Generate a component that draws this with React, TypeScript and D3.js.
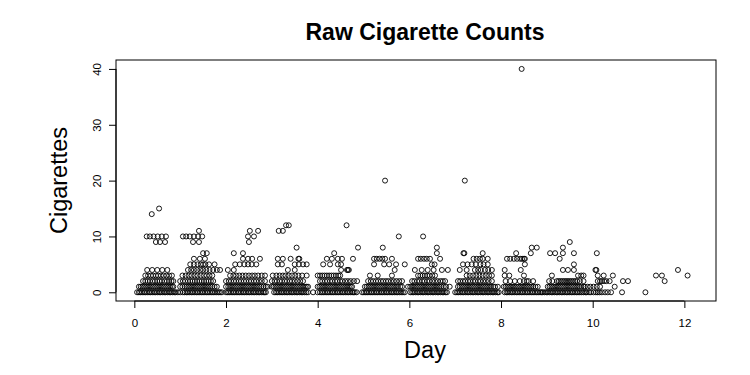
import React, { useRef, useEffect } from 'react';
import * as d3 from 'd3';

// Day values of the observations, one list per cigarette count
const zeroDays = [
  0.06, 0.1, 0.13, 0.17, 0.21, 0.24, 0.28, 0.32, 0.35, 0.39, 0.43, 0.46, 0.5, 0.54, 0.57, 0.61, 0.65, 0.68, 0.72, 0.76, 0.79, 0.83, 0.87, 0.9, 0.95,
  1.0, 1.06,
  1.1, 1.14, 1.17, 1.21, 1.25, 1.28, 1.32, 1.36, 1.39, 1.43, 1.47, 1.5, 1.54, 1.58, 1.61, 1.65, 1.69, 1.72, 1.76, 1.8, 1.84, 1.87, 1.91,
  2.0, 2.04, 2.07, 2.11, 2.15, 2.18, 2.22, 2.26, 2.29, 2.33, 2.37, 2.4, 2.44, 2.48, 2.51, 2.55, 2.59, 2.62, 2.66, 2.7, 2.73, 2.77, 2.81, 2.84, 2.87,
  3.05, 3.09, 3.12, 3.16, 3.2, 3.23, 3.27, 3.31, 3.34, 3.38, 3.42, 3.45, 3.49, 3.53, 3.56, 3.6, 3.64, 3.67, 3.71, 3.75, 3.79, 3.9, 4.0,
  4.05, 4.09, 4.12, 4.16, 4.2, 4.23, 4.27, 4.31, 4.34, 4.38, 4.42, 4.45, 4.49, 4.53, 4.56, 4.6, 4.64, 4.67, 4.71, 4.75, 4.78, 4.81, 4.85, 4.97,
  5.01, 5.05, 5.08, 5.12, 5.16, 5.19, 5.23, 5.27, 5.3, 5.34, 5.38, 5.41, 5.45, 5.49, 5.52, 5.56, 5.6, 5.63, 5.67, 5.71, 5.74, 5.78, 5.82, 5.86, 5.9,
  6.02, 6.06, 6.09, 6.13, 6.17, 6.2, 6.24, 6.28, 6.31, 6.35, 6.39, 6.42, 6.46, 6.5, 6.53, 6.57, 6.61, 6.64, 6.68, 6.72, 6.75, 6.79, 6.82,
  7.0, 7.04, 7.07, 7.11, 7.15, 7.18, 7.22, 7.26, 7.29, 7.33, 7.37, 7.4, 7.44, 7.48, 7.51, 7.55, 7.59, 7.62, 7.66, 7.7, 7.73, 7.77, 7.81, 7.84, 7.88, 7.92, 7.95,
  8.08, 8.12, 8.15, 8.19, 8.23, 8.26, 8.3, 8.34, 8.37, 8.41, 8.45, 8.48, 8.52, 8.56, 8.59, 8.63, 8.67, 8.7, 8.74, 8.78, 8.81, 8.85, 8.88, 8.91,
  8.95, 8.99, 9.02, 9.06, 9.1, 9.13, 9.17, 9.21, 9.24, 9.28, 9.32, 9.35, 9.39, 9.43, 9.46, 9.5, 9.54, 9.57, 9.61, 9.65, 9.68, 9.72, 9.76, 9.8, 9.84, 9.87,
  9.92, 9.96, 10.02, 10.07, 10.11, 10.15, 10.2, 10.27, 10.33, 10.4, 10.64, 11.15,
];

const oneDays = [
  0.1, 0.14, 0.18, 0.22, 0.26, 0.3, 0.34, 0.38, 0.42, 0.46, 0.5, 0.54, 0.58, 0.62, 0.66, 0.7, 0.74, 0.78, 0.82, 0.85,
  1.0, 1.05, 1.1, 1.14, 1.18, 1.22, 1.26, 1.3, 1.34, 1.38, 1.42, 1.46, 1.5, 1.54, 1.58, 1.62, 1.66, 1.7, 1.75, 1.8,
  2.0, 2.05, 2.09, 2.13, 2.17, 2.21, 2.25, 2.29, 2.33, 2.37, 2.41, 2.45, 2.49, 2.53, 2.57, 2.61, 2.65, 2.69, 2.73, 2.77, 2.82, 2.87, 2.91,
  3.0, 3.04, 3.08, 3.12, 3.16, 3.2, 3.24, 3.28, 3.32, 3.36, 3.4, 3.44, 3.48, 3.52, 3.56, 3.6, 3.64, 3.68, 3.72, 3.76, 3.79,
  4.0, 4.04, 4.08, 4.12, 4.16, 4.2, 4.24, 4.28, 4.32, 4.36, 4.4, 4.44, 4.48, 4.52, 4.56, 4.6, 4.64, 4.68, 4.72, 4.75,
  5.03, 5.07, 5.11, 5.15, 5.19, 5.23, 5.27, 5.31, 5.35, 5.39, 5.43, 5.47, 5.51, 5.55, 5.59, 5.63, 5.67, 5.71, 5.75, 5.8, 5.84,
  5.97, 6.02, 6.06, 6.1, 6.14, 6.18, 6.22, 6.26, 6.3, 6.34, 6.38, 6.42, 6.46, 6.5, 6.54, 6.58, 6.62, 6.66, 6.7, 6.75, 6.8, 6.88,
  7.06, 7.1, 7.14, 7.18, 7.22, 7.26, 7.3, 7.34, 7.38, 7.42, 7.46, 7.5, 7.54, 7.58, 7.62, 7.66, 7.7, 7.74, 7.78, 7.83, 7.87,
  7.93, 8.06, 8.1, 8.14, 8.18, 8.22, 8.26, 8.3, 8.34, 8.38, 8.42, 8.46, 8.5, 8.54, 8.58, 8.62, 8.66, 8.7, 8.75, 8.8,
  9.02, 9.06, 9.1, 9.14, 9.18, 9.22, 9.26, 9.3, 9.34, 9.38, 9.42, 9.46, 9.5, 9.54, 9.58, 9.62, 9.66, 9.7, 9.75, 9.8, 9.83,
  9.89, 9.95, 10.02, 10.09, 10.16, 10.48,
];

const twoDays = [
  0.19, 0.24, 0.29, 0.34, 0.4, 0.45, 0.5, 0.55, 0.6, 0.66, 0.71, 0.76, 0.81, 0.85,
  1.0, 1.06, 1.11, 1.17, 1.22, 1.27, 1.32, 1.37, 1.42, 1.47, 1.52, 1.57, 1.62, 1.67, 1.72,
  2.0, 2.06, 2.11, 2.17, 2.22, 2.28, 2.33, 2.39, 2.44, 2.5, 2.55, 2.61, 2.66, 2.72, 2.78, 2.85,
  3.0, 3.06, 3.11, 3.17, 3.22, 3.28, 3.33, 3.39, 3.44, 3.5, 3.56, 3.62, 3.68,
  4.05, 4.1, 4.16, 4.21, 4.27, 4.32, 4.38, 4.43, 4.49, 4.54, 4.6, 4.66, 4.72, 4.79, 4.86,
  5.1, 5.16, 5.21, 5.27, 5.32, 5.38, 5.43, 5.49, 5.54, 5.6, 5.66, 5.72, 5.78, 5.84,
  6.06, 6.11, 6.17, 6.22, 6.28, 6.33, 6.39, 6.44, 6.5, 6.56, 6.62, 6.68, 6.73, 6.78,
  7.06, 7.11, 7.17, 7.22, 7.28, 7.33, 7.39, 7.44, 7.5, 7.55, 7.61, 7.67, 7.73, 7.8,
  8.1, 8.2, 8.3, 8.41, 8.5, 8.56, 8.6, 8.7,
  9.05, 9.12, 9.22, 9.26, 9.3, 9.34, 9.38, 9.42, 9.46, 9.5, 9.54, 9.58, 9.62, 9.66, 9.72, 9.8,
  10.11, 10.16, 10.2, 10.25, 10.3, 10.37, 10.66, 10.77, 11.57,
];

const threeDays = [
  0.24, 0.3, 0.36, 0.41, 0.47, 0.52, 0.58, 0.64, 0.7, 0.76, 0.82,
  1.05, 1.12, 1.19, 1.25, 1.32, 1.38, 1.45, 1.52, 1.58, 1.64, 1.7,
  2.09, 2.16, 2.22, 2.29, 2.36, 2.43, 2.5, 2.57, 2.63, 2.7, 2.78, 2.85,
  3.02, 3.1, 3.17, 3.24, 3.3, 3.37, 3.44, 3.51, 3.58, 3.66, 3.76,
  4.0, 4.05, 4.1, 4.15, 4.2, 4.25, 4.3, 4.35, 4.4, 4.45, 4.49,
  5.14, 5.31, 5.62,
  6.19, 6.24, 6.29, 6.34, 6.39, 6.44, 6.5, 6.56,
  7.25, 7.32, 7.39, 7.46, 7.53, 7.6, 7.67, 7.74, 7.8,
  8.08, 8.18, 8.5,
  9.11, 9.68, 9.75, 9.8,
  10.11, 10.24, 10.44, 11.38, 11.51, 12.07,
];

const fourDays = [
  0.28, 0.39, 0.5, 0.61, 0.72,
  1.17, 1.24, 1.3, 1.37, 1.44, 1.5, 1.57, 1.64, 1.72, 1.8, 1.87,
  2.04, 2.17,
  3.35, 3.5,
  4.51, 4.64, 4.66, 4.68,
  5.68,
  6.12, 6.27, 6.4, 6.53, 6.71, 6.84,
  7.1, 7.25, 7.43, 7.5, 7.56, 7.65, 7.72, 7.8,
  8.08, 8.43,
  9.35, 9.46, 9.59,
  10.06, 10.08, 11.86,
];

const fiveDays = [
  1.22, 1.3, 1.38, 1.45, 1.5, 1.55, 1.63, 1.75,
  2.2, 2.3, 2.4, 2.48, 2.56, 2.66,
  3.13, 3.22, 3.5, 3.59, 3.68, 3.76,
  4.12, 4.27, 4.44, 4.51,
  5.23, 5.45, 5.56, 5.71, 5.9,
  6.49, 6.55,
  7.17, 7.27, 7.36, 7.45, 7.55, 7.62, 7.71,
  8.52,
  9.59,
];

const sixDays = [
  1.3, 1.43, 1.54,
  2.37, 2.48, 2.57, 2.74,
  3.13, 3.24, 3.41, 3.58, 3.6,
  4.2, 4.31, 4.44, 4.53, 4.77,
  5.23, 5.29, 5.35, 5.41, 5.47, 5.62,
  6.19, 6.25, 6.32, 6.38, 6.45, 6.67,
  7.4, 7.47, 7.54, 7.6, 7.71,
  8.13, 8.2, 8.28, 8.35, 8.42, 8.46, 8.5, 8.52,
  9.28,
];

const sevenDays = [
  1.5, 1.58, 2.17, 2.37, 4.36, 6.6, 7.18, 7.2, 7.6, 8.33, 8.65,
  9.07, 9.18, 9.35, 9.59, 10.09,
];

// [day, cigarettes] for the sparse high counts
const highPoints = [
  [0.47, 9], [0.56, 9], [0.67, 9],
  [0.27, 10], [0.34, 10], [0.42, 10], [0.51, 10], [0.6, 10], [0.69, 10],
  [0.38, 14], [0.54, 15],
  [1.28, 9], [1.41, 9], [1.06, 10], [1.13, 10], [1.21, 10], [1.3, 10], [1.39, 10], [1.48, 10], [1.41, 11],
  [2.5, 9], [2.48, 10], [2.61, 10], [2.52, 11], [2.7, 11],
  [3.54, 8], [3.15, 11], [3.24, 11], [3.31, 12], [3.37, 12],
  [4.88, 8], [4.63, 12],
  [5.42, 8], [5.77, 10], [5.47, 20],
  [6.6, 8], [6.3, 10],
  [7.21, 20],
  [8.67, 8], [8.78, 8], [8.45, 40],
  [9.35, 8], [9.5, 9],
];

const xTicks = [0, 2, 4, 6, 8, 10, 12];
const yTicks = [0, 10, 20, 30, 40];

const countLists = [zeroDays, oneDays, twoDays, threeDays, fourDays, fiveDays, sixDays, sevenDays];

const FONT = "'Liberation Sans', Arial, Helvetica, sans-serif";

const App = () => {
  const chartRef = useRef(null);

  useEffect(() => {
    const svg = d3.select(chartRef.current);
    svg.selectAll('*').remove();

    const box = { left: 116, right: 716, top: 60, bottom: 301 };
    // titles sit a little right of the box centre in the original
    const textCenter = 425;

    const x = d3.scaleLinear().domain([-0.4, 12.69]).range([box.left, box.right]);
    const y = d3.scaleLinear().domain([-1.56, 41.6]).range([box.bottom, box.top]);

    const points = countLists
      .flatMap((days, count) => days.map(d => [d, count]))
      .concat(highPoints);

    svg.append('g')
      .selectAll('circle')
      .data(points)
      .join('circle')
      .attr('cx', d => x(d[0]))
      .attr('cy', d => y(d[1]))
      .attr('r', 2.5)
      .attr('fill', 'none')
      .attr('stroke', '#000')
      .attr('stroke-width', 0.9);

    svg.append('rect')
      .attr('x', box.left)
      .attr('y', box.top)
      .attr('width', box.right - box.left)
      .attr('height', box.bottom - box.top)
      .attr('fill', 'none')
      .attr('stroke', '#000');

    const xAxis = svg.append('g')
      .attr('transform', `translate(0,${box.bottom})`)
      .call(d3.axisBottom(x).tickValues(xTicks).tickSize(7).tickPadding(11).tickFormat(d3.format('d')));
    xAxis.select('.domain').remove();
    xAxis.append('line')
      .attr('x1', x(xTicks[0])).attr('x2', x(xTicks[xTicks.length - 1]))
      .attr('stroke', '#000');
    xAxis.selectAll('text').attr('font-size', 11.5).attr('font-family', FONT).attr('fill', '#000');

    const yAxis = svg.append('g')
      .attr('transform', `translate(${box.left},0)`)
      .call(d3.axisLeft(y).tickValues(yTicks).tickSize(7).tickFormat(d3.format('d')));
    yAxis.select('.domain').remove();
    yAxis.append('line')
      .attr('y1', y(yTicks[0])).attr('y2', y(yTicks[yTicks.length - 1]))
      .attr('stroke', '#000');
    yAxis.selectAll('text')
      .attr('x', 0)
      .attr('dy', null)
      .attr('text-anchor', 'middle')
      .attr('transform', 'translate(-15,0) rotate(-90)')
      .attr('font-size', 11.5)
      .attr('font-family', FONT)
      .attr('fill', '#000');

    svg.append('text')
      .attr('x', textCenter)
      .attr('y', 40)
      .attr('text-anchor', 'middle')
      .attr('font-family', FONT)
      .attr('font-weight', 'bold')
      .attr('font-size', 23)
      .text('Raw Cigarette Counts');

    svg.append('text')
      .attr('x', textCenter)
      .attr('y', 358)
      .attr('text-anchor', 'middle')
      .attr('font-family', FONT)
      .attr('font-size', 23.5)
      .text('Day');

    svg.append('text')
      .attr('transform', `translate(67,${(box.top + box.bottom) / 2}) rotate(-90)`)
      .attr('text-anchor', 'middle')
      .attr('font-family', FONT)
      .attr('font-size', 23.5)
      .text('Cigarettes');
  }, []);

  return (
    <svg
      ref={chartRef}
      width={750}
      height={375}
      style={{ position: 'absolute', left: 0, top: 0, background: '#fff' }}
    />
  );
};

export default App;
